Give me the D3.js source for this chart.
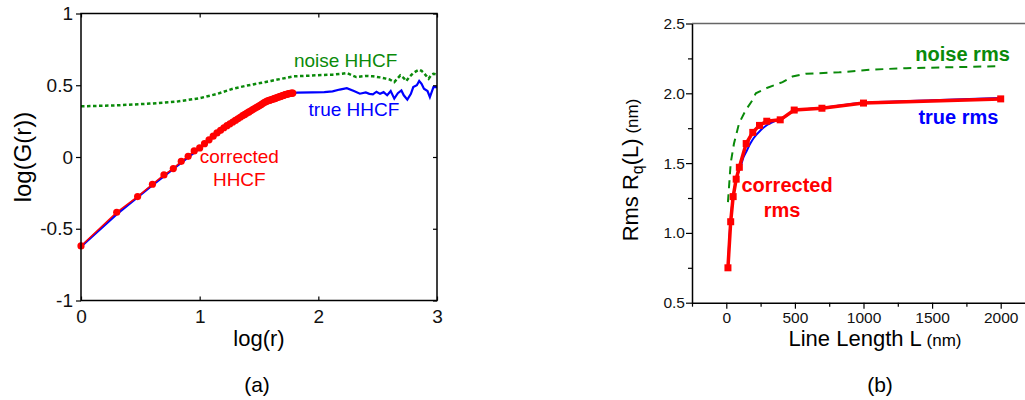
<!DOCTYPE html>
<html lang="en">
<head>
<meta charset="UTF-8">
<style>
  body { margin: 0; background: #fff; }
  svg { display: block; font-family: "Liberation Sans", Arial, sans-serif; }
</style>
</head>
<body>
<script src="https://cdnjs.cloudflare.com/ajax/libs/d3/7.8.5/d3.min.js"></script>
<script>
// ---- panel (a): HHCF, log-log ----
var corrLogR = [0, 0.301, 0.477, 0.602, 0.699, 0.778, 0.845, 0.903, 0.954, 1.0,
  1.041, 1.079, 1.114, 1.146, 1.176, 1.204, 1.230, 1.255, 1.279, 1.301,
  1.322, 1.342, 1.362, 1.380, 1.398, 1.415, 1.431, 1.447, 1.462, 1.477,
  1.491, 1.505, 1.519, 1.531, 1.544, 1.556, 1.568, 1.580, 1.591, 1.602,
  1.613, 1.623, 1.633, 1.643, 1.653, 1.663, 1.672, 1.681, 1.690, 1.699,
  1.708, 1.716, 1.724, 1.732, 1.740, 1.748, 1.756, 1.763, 1.771, 1.778, 1.785];
var corrLogG = [-0.62, -0.385, -0.276, -0.19, -0.125, -0.081, -0.03, 0.005, 0.042, 0.063,
  0.093, 0.12, 0.145, 0.168, 0.186, 0.204, 0.218, 0.231, 0.244, 0.255,
  0.266, 0.277, 0.288, 0.297, 0.306, 0.314, 0.322, 0.33, 0.338, 0.345,
  0.352, 0.359, 0.366, 0.372, 0.379, 0.385, 0.39, 0.393, 0.396, 0.399,
  0.402, 0.405, 0.408, 0.411, 0.414, 0.417, 0.42, 0.422, 0.425, 0.428,
  0.43, 0.433, 0.435, 0.437, 0.439, 0.44, 0.442, 0.443, 0.444, 0.445, 0.446];

var trueLogR = [0, 0.3, 0.6, 1.0, 1.2, 1.4, 1.6, 1.8, 1.82, 1.95, 2.05, 2.12, 2.18, 2.24,
  2.3, 2.35, 2.4, 2.43, 2.46, 2.49, 2.52, 2.55, 2.58, 2.61, 2.64, 2.67, 2.7,
  2.72, 2.75, 2.78, 2.8, 2.83, 2.85, 2.87, 2.89, 2.92, 2.94, 2.97, 3.0];
var trueLogG = [-0.625, -0.4, -0.198, 0.06, 0.2, 0.305, 0.398, 0.446, 0.448, 0.45, 0.452,
  0.457, 0.47, 0.48, 0.46, 0.441, 0.45, 0.44, 0.437, 0.455, 0.44, 0.452, 0.43,
  0.46, 0.407, 0.445, 0.464, 0.43, 0.4, 0.44, 0.487, 0.5, 0.53, 0.51, 0.476,
  0.46, 0.418, 0.487, 0.487];

var noiseLogR = [0, 0.3, 0.58, 0.8, 1.0, 1.15, 1.28, 1.4, 1.51, 1.6, 1.79, 1.98, 2.12,
  2.2, 2.24, 2.32, 2.4, 2.46, 2.52, 2.57, 2.6, 2.64, 2.67, 2.69, 2.72, 2.74,
  2.77, 2.8, 2.83, 2.85, 2.87, 2.89, 2.91, 2.93, 2.95, 2.97, 3.0];
var noiseLogG = [0.353, 0.36, 0.372, 0.385, 0.41, 0.44, 0.476, 0.498, 0.515, 0.53, 0.562,
  0.569, 0.574, 0.58, 0.585, 0.557, 0.565, 0.562, 0.555, 0.546, 0.54, 0.522,
  0.55, 0.569, 0.55, 0.529, 0.56, 0.585, 0.6, 0.608, 0.6, 0.585, 0.565, 0.546,
  0.57, 0.58, 0.574];

var aXTicks = [0, 1, 2, 3];
var aYTicks = [-1, -0.5, 0, 0.5, 1];
var aYTickLabels = ["-1", "-0.5", "0", "0.5", "1"];

// ---- panel (b): rms vs line length ----
var corrL = [12, 32, 50, 72, 95, 145, 193, 242, 295, 393, 495, 697, 1000, 2000];
var corrRms = [0.75, 1.08, 1.26, 1.385, 1.47, 1.64, 1.72, 1.77, 1.8, 1.81, 1.88, 1.893, 1.93, 1.96];

var trueL = [12, 20, 30, 40, 50, 60, 70, 80, 100, 125, 150, 175, 200, 250, 300, 350, 400,
  500, 700, 1000, 1500, 2000];
var trueRms = [0.735, 0.92, 1.07, 1.18, 1.26, 1.32, 1.37, 1.41, 1.46, 1.54, 1.59, 1.64,
  1.68, 1.735, 1.775, 1.8, 1.815, 1.876, 1.897, 1.932, 1.95, 1.966];

var noiseL = [12, 32, 56, 93, 142, 190, 215, 300, 410, 482, 580, 824, 1067, 1311, 1555, 1798, 1995];
var noiseRms = [1.22, 1.5, 1.64, 1.785, 1.88, 1.95, 2.0, 2.04, 2.08, 2.12, 2.14, 2.15,
  2.17, 2.18, 2.185, 2.19, 2.195];

var bXTicks = [0, 500, 1000, 1500, 2000];
var bXMinor = [-250, 250, 750, 1250, 1750];
var bYTicks = [0.5, 1.0, 1.5, 2.0, 2.5];
var bYMinor = [0.75, 1.25, 1.75, 2.25];

var RED = "#ff0000", BLUE = "#0000ff", GREEN = "#0a8a0a";

var svg = d3.select("body").append("svg")
    .attr("width", 1025)
    .attr("height", 400);

function zip(a, b) { return a.map(function(v, i) { return [v, b[i]]; }); }

// ================= panel (a) =================
var xa = d3.scaleLinear().domain([0, 3]).range([81, 437]);
var ya = d3.scaleLinear().domain([-1, 1]).range([300.5, 13.5]);
var ga = svg.append("g");

var lineA = d3.line().x(function(d) { return xa(d[0]); }).y(function(d) { return ya(d[1]); });

ga.append("path").datum(zip(noiseLogR, noiseLogG))
    .attr("d", lineA).attr("fill", "none")
    .attr("stroke", GREEN).attr("stroke-width", 2.5).attr("stroke-dasharray", "3.5,2.5");
ga.append("path").datum(zip(trueLogR, trueLogG))
    .attr("d", lineA).attr("fill", "none")
    .attr("stroke", BLUE).attr("stroke-width", 2.2);
ga.append("path").datum(zip(corrLogR, corrLogG))
    .attr("d", lineA).attr("fill", "none")
    .attr("stroke", RED).attr("stroke-width", 1.5);
ga.selectAll("circle.c").data(zip(corrLogR, corrLogG)).enter().append("circle")
    .attr("cx", function(d) { return xa(d[0]); })
    .attr("cy", function(d) { return ya(d[1]); })
    .attr("r", 3.6).attr("fill", RED);

// frame
ga.append("rect").attr("x", xa(0)).attr("y", ya(1))
    .attr("width", xa(3) - xa(0)).attr("height", ya(-1) - ya(1))
    .attr("fill", "none").attr("stroke", "#000").attr("stroke-width", 1.5);

ga.append("g").attr("transform", "translate(" + xa(0) + ",0)")
    .call(d3.axisLeft(ya).tickValues(aYTicks).tickSize(5).tickPadding(3)
        .tickFormat(function(d, i) { return aYTickLabels[i]; }));
ga.append("g").attr("transform", "translate(0," + ya(-1) + ")")
    .call(d3.axisBottom(xa).tickValues(aXTicks).tickSizeInner(-4).tickSizeOuter(0).tickPadding(9)
        .tickFormat(d3.format("d")));
ga.append("g").attr("transform", "translate(" + xa(3) + ",0)")
    .call(d3.axisRight(ya).tickValues(aYTicks).tickSizeInner(-4).tickSizeOuter(0).tickFormat(""));
ga.append("g").attr("transform", "translate(0," + ya(1) + ")")
    .call(d3.axisTop(xa).tickValues(aXTicks).tickSizeInner(-4).tickSizeOuter(0).tickFormat(""));
ga.selectAll(".domain").remove();
ga.selectAll(".tick line").attr("stroke", "#000").attr("stroke-width", 1.2);
ga.selectAll(".tick text").attr("font-size", 19).attr("fill", "#111")
    .attr("font-family", "Liberation Sans, Arial, sans-serif");

ga.append("text").attr("x", 259).attr("y", 346).attr("text-anchor", "middle")
    .attr("font-size", 22).text("log(r)");
ga.append("text").attr("transform", "translate(31," + ya(0) + ") rotate(-90)")
    .attr("text-anchor", "middle").attr("font-size", 24).text("log(G(r))");
ga.append("text").attr("x", 257).attr("y", 392).attr("text-anchor", "middle")
    .attr("font-size", 21).text("(a)");

ga.append("text").attr("x", xa(2.23)).attr("y", ya(0.625)).attr("text-anchor", "middle")
    .attr("font-size", 19).attr("fill", GREEN).text("noise HHCF");
ga.append("text").attr("x", xa(2.3)).attr("y", ya(0.283)).attr("text-anchor", "middle")
    .attr("font-size", 19).attr("fill", BLUE).text("true HHCF");
ga.append("text").attr("x", xa(1.334)).attr("y", ya(-0.044)).attr("text-anchor", "middle")
    .attr("font-size", 19).attr("fill", RED).text("corrected");
ga.append("text").attr("x", xa(1.334)).attr("y", ya(-0.204)).attr("text-anchor", "middle")
    .attr("font-size", 19).attr("fill", RED).text("HHCF");

// ================= panel (b) =================
var xb = d3.scaleLinear().domain([-250, 2250]).range([692, 1035]);
var yb = d3.scaleLinear().domain([0.5, 2.5]).range([302.7, 23.5]);
var gb = svg.append("g");

var lineB = d3.line().x(function(d) { return xb(d[0]); }).y(function(d) { return yb(d[1]); });

gb.append("path").datum(zip(noiseL, noiseRms))
    .attr("d", lineB).attr("fill", "none")
    .attr("stroke", GREEN).attr("stroke-width", 2).attr("stroke-dasharray", "8,6");
gb.append("path").datum(zip(trueL, trueRms))
    .attr("d", lineB.curve(d3.curveMonotoneX)).attr("fill", "none")
    .attr("stroke", BLUE).attr("stroke-width", 2);
lineB.curve(d3.curveLinear);
gb.append("path").datum(zip(corrL, corrRms))
    .attr("d", lineB).attr("fill", "none")
    .attr("stroke", RED).attr("stroke-width", 3.5);
gb.selectAll("rect.m").data(zip(corrL, corrRms)).enter().append("rect")
    .attr("x", function(d) { return xb(d[0]) - 3.5; })
    .attr("y", function(d) { return yb(d[1]) - 3.5; })
    .attr("width", 7).attr("height", 7).attr("fill", RED);

// top frame line (grey)
gb.append("line").attr("x1", xb(-250)).attr("x2", 1025).attr("y1", yb(2.5)).attr("y2", yb(2.5))
    .attr("stroke", "#666").attr("stroke-width", 1.5);

gb.append("g").attr("transform", "translate(" + xb(-250) + ",0)")
    .call(d3.axisLeft(yb).tickValues(bYTicks).tickSizeInner(6).tickSizeOuter(0).tickPadding(1)
        .tickFormat(d3.format(".1f")));
gb.append("g").attr("transform", "translate(" + xb(-250) + ",0)")
    .call(d3.axisLeft(yb).tickValues(bYMinor).tickSizeInner(4).tickSizeOuter(0).tickFormat(""))
    .select(".domain").remove();
gb.append("g").attr("transform", "translate(0," + yb(0.5) + ")")
    .call(d3.axisBottom(xb).tickValues(bXTicks).tickSizeInner(6).tickSizeOuter(0).tickPadding(3)
        .tickFormat(d3.format("d")));
gb.append("g").attr("transform", "translate(0," + yb(0.5) + ")")
    .call(d3.axisBottom(xb).tickValues(bXMinor).tickSizeInner(4).tickSizeOuter(0).tickFormat(""))
    .select(".domain").remove();
gb.selectAll(".domain").attr("stroke", "#000").attr("stroke-width", 1.5);
gb.selectAll(".tick line").attr("stroke", "#000").attr("stroke-width", 1.2);
gb.selectAll(".tick text").attr("font-size", 15.5).attr("fill", "#111")
    .attr("font-family", "Liberation Sans, Arial, sans-serif");

var xl = gb.append("text").attr("x", 875).attr("y", 346).attr("text-anchor", "middle")
    .attr("font-size", 22);
xl.append("tspan").text("Line Length L");
xl.append("tspan").attr("font-size", 17).text(" (nm)");

var yl = gb.append("text").attr("transform", "translate(638,170) rotate(-90)")
    .attr("text-anchor", "middle").attr("font-size", 22);
yl.append("tspan").text("Rms R");
yl.append("tspan").attr("font-size", 16).attr("dy", 5).text("q");
yl.append("tspan").attr("dy", -5).text("(L)");
yl.append("tspan").attr("font-size", 17).text(" (nm)");

gb.append("text").attr("x", 880).attr("y", 392).attr("text-anchor", "middle")
    .attr("font-size", 21).text("(b)");

gb.append("text").attr("x", xb(1722)).attr("y", yb(2.234)).attr("text-anchor", "middle")
    .attr("font-size", 20).attr("font-weight", "bold").attr("fill", GREEN).text("noise rms");
gb.append("text").attr("x", xb(1692)).attr("y", yb(1.78)).attr("text-anchor", "middle")
    .attr("font-size", 20).attr("font-weight", "bold").attr("fill", BLUE).text("true rms");
gb.append("text").attr("x", xb(443)).attr("y", yb(1.295)).attr("text-anchor", "middle")
    .attr("font-size", 20).attr("font-weight", "bold").attr("fill", RED).text("corrected");
gb.append("text").attr("x", xb(406)).attr("y", yb(1.116)).attr("text-anchor", "middle")
    .attr("font-size", 20).attr("font-weight", "bold").attr("fill", RED).text("rms");
</script>
</body>
</html>
